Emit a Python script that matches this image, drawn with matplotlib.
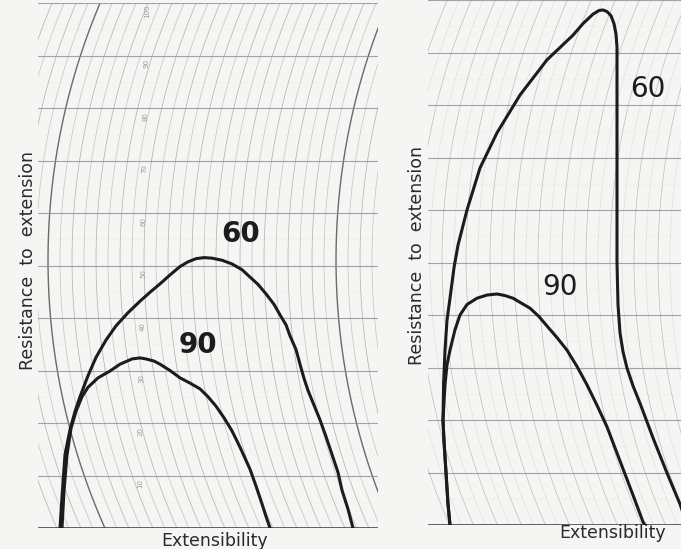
import numpy as np
import matplotlib.pyplot as plt

# extensigram readings, extensibility in mm, resistance in Brabender units
left_60_ext = [0, 1, 2.5, 5, 7.5, 10, 14, 18, 23, 28, 34, 40, 45, 50, 55, 60, 64, 68, 72, 76, 81, 86,
               91, 95, 99, 103, 107, 110, 113, 115, 118, 120, 122, 124, 127, 130, 133, 136, 139, 141, 144, 146.5]
left_60_res = [0, 60, 140, 187, 222, 250, 290, 325, 358, 385, 410, 432, 449, 465, 482, 498, 507, 513, 515, 514, 510, 503,
               492, 478, 464, 446, 426, 406, 387, 366, 340, 312, 285, 262, 234, 206, 174, 140, 106, 72, 36, 0]
left_90_ext = [1, 2, 3.5, 5.5, 8, 11, 14, 19, 25, 30, 36, 40, 43, 47, 50, 55, 60, 65, 70, 74, 78, 82, 86,
               90, 95, 98, 101, 103, 105]
left_90_res = [0, 70, 139, 190, 222, 250, 268, 286, 299, 312, 322, 324, 322, 318, 312, 300, 286, 276, 265, 250, 232, 210, 185,
               154, 112, 80, 46, 22, 0]

right_60_ext = [3.5, 2.5, 1.5, 0.5, 0, 0.3, 1, 2, 3.5, 5.5, 7.5, 12, 18.5, 27, 38.5, 52, 65, 70, 75, 78, 80, 82,
                84, 85.5, 86.5, 87, 87, 87, 87, 87, 87.5, 88.5, 90, 92, 95, 98.5, 105, 112, 118.5, 122]
right_60_res = [0, 40, 100, 160, 200, 270, 333, 390, 432, 490, 533, 600, 680, 747, 819, 886, 933, 955, 973, 980, 981, 978,
                970, 955, 935, 910, 800, 700, 600, 500, 420, 366, 330, 299, 265, 232, 166, 99, 40, 0]
right_90_ext = [3.5, 2.5, 1.5, 0.5, 0, 1, 2, 3.5, 6, 8.5, 12, 17, 22, 27, 31, 35, 39, 43.5, 48, 52, 57, 62,
                67, 72, 77, 82, 86, 90, 95, 100, 101]
right_90_res = [0, 40, 100, 160, 200, 267, 305, 333, 372, 400, 420, 432, 438, 440, 437, 432, 423, 413, 397, 379, 357, 333,
                302, 267, 228, 187, 147, 107, 57, 6, 0]

curve_names = ["60", "90"]
scale_labels = ["10", "20", "30", "40", "50", "60", "70", "80", "90", "100"]
bu_lines = list(range(100, 1001, 100))

W, H = 681, 549
fig = plt.figure(figsize=(W / 100, H / 100), dpi=100)
fig.patch.set_facecolor('#f5f5f3')

ink = '#1c1c1c'
grid_col = '#8f8f8f'


def paper(ax, base_px, apexes, darks, alphas):
    # chart paper: horizontal BU lines and the pen arcs
    bu = np.linspace(0, 1000, 200)
    R = 660.0
    c = base_px - 260.0
    for i, a in enumerate(apexes):
        x = a + (R - np.sqrt(R ** 2 - (c - 0.525 * bu) ** 2)) / 2
        if a in darks:
            ax.plot(x, bu, color='#6a6a6a', lw=1.0, zorder=1)
        else:
            ax.plot(x, bu, color=grid_col, lw=0.5, alpha=alphas[i % len(alphas)], zorder=1)
    for b in bu_lines:
        ax.axhline(b, color=grid_col, lw=0.8, alpha=0.8, zorder=1)
    for b in range(50, 1000, 100):
        ax.axhline(b, color=grid_col, lw=0.4, alpha=0.2, ls=':', zorder=1)
    ax.axhline(0, color='#555555', lw=1.3, zorder=2)


# left extensigram
ax1 = fig.add_axes([38 / W, 21 / H, 340 / W, 525 / H])
ax1.set_xlim(-11, 159)
ax1.set_ylim(0, 1000)
ax1.set_facecolor('#ededeb')
paper(ax1, 528, [-30 + 6 * k for k in range(34)], [-6, 138], [0.7, 0.5])
ax1.plot(left_60_ext, left_60_res, color=ink, lw=2.2, solid_joinstyle='round', zorder=3)
ax1.plot(left_90_ext, left_90_res, color=ink, lw=2.2, solid_joinstyle='round', zorder=3)
for k, lab in enumerate(scale_labels):
    ax1.text(40 + 0.4 * k, bu_lines[k] - 16, lab, rotation=90, fontsize=5,
             color='#9a9a9a', ha='center', va='center', zorder=2)
ax1.text(90.5, 560, curve_names[0], fontsize=20, fontweight='bold', color=ink,
         ha='center', va='center', zorder=4)
ax1.text(69, 349, curve_names[1], fontsize=20, fontweight='bold', color=ink,
         ha='center', va='center', zorder=4)
ax1.axis('off')
ax1.patch.set_visible(True)

# right extensigram
ax2 = fig.add_axes([428 / W, 24 / H, 253 / W, 525 / H])
ax2.set_xlim(-7.5, 119)
ax2.set_ylim(0, 1000)
ax2.set_facecolor('#f1f1ef')
paper(ax2, 525, [-24.5 + 6 * k for k in range(26)], [43.5], [0.55, 0.2])
ax2.plot(right_60_ext, right_60_res, color=ink, lw=2.2, solid_joinstyle='round', zorder=3)
ax2.plot(right_90_ext, right_90_res, color=ink, lw=2.2, solid_joinstyle='round', zorder=3)
ax2.text(102.5, 830, curve_names[0], fontsize=20, color=ink, ha='center', va='center', zorder=4)
ax2.text(58.5, 453, curve_names[1], fontsize=20, color=ink, ha='center', va='center', zorder=4)
ax2.axis('off')
ax2.patch.set_visible(True)


def px(x, y):
    return x / W, 1 - y / H


txt = '#2a2a2a'
fig.text(*px(28, 261), "Resistance  to  extension", rotation=90, fontsize=12.5,
         color=txt, ha='center', va='center')
fig.text(*px(417, 255), "Resistance  to  extension", rotation=90, fontsize=12.5,
         color=txt, ha='center', va='center')
fig.text(*px(215, 541), "Extensibility", fontsize=12.5, color=txt, ha='center', va='center')
fig.text(*px(613, 533), "Extensibility", fontsize=12.5, color=txt, ha='center', va='center')

fig.savefig('out.png', dpi=100, facecolor=fig.get_facecolor())
